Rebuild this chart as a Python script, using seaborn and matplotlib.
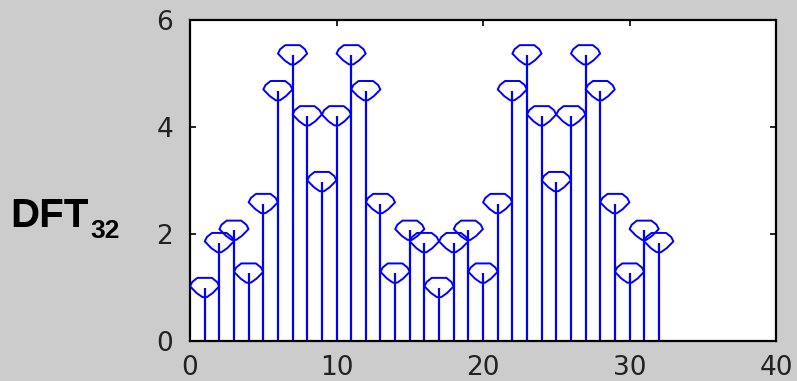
import numpy as np
import pandas as pd
import matplotlib
matplotlib.use("Agg")
import matplotlib.pyplot as plt
from matplotlib.path import Path
from matplotlib.markers import MarkerStyle
import seaborn as sns

# DFT magnitude samples, k = 1..32
k = list(range(1, 33))
magnitude = [1.00, 1.84, 2.07, 1.27, 2.57, 4.68, 5.35, 4.21,
             2.98, 4.21, 5.35, 4.68, 2.57, 1.27, 2.07, 1.84,
             1.00, 1.84, 2.07, 1.27, 2.57, 4.68, 5.35, 4.21,
             2.98, 4.21, 5.35, 4.68, 2.57, 1.27, 2.07, 1.84]
x_ticks = [0, 10, 20, 30, 40]
y_ticks = [0, 2, 4, 6]

df = pd.DataFrame({"k": k, "mag": magnitude})

sns.set_theme(style="white")
plt.rcParams["font.family"] = ["DejaVu Sans"]

bg = "#cccccc"
stem_color = "#0000ff"

fig = plt.figure(figsize=(7.97, 3.81), dpi=100, facecolor=bg)
ax = fig.add_axes([190 / 797, 1 - 341 / 381, 586 / 797, 321 / 381])
ax.set_facecolor("white")

# stems from zero up to each sample
ax.vlines(df["k"], 0, df["mag"], color=stem_color, linewidth=1.6, zorder=2)

# wide open "gem" diamond marker: flat top, pointed sides, narrow bottom
verts = [(-0.5, 0.66), (0.5, 0.66), (0.85, 0.38), (1.0, 0.08),
         (0.55, -0.38), (0.15, -0.66), (-0.15, -0.66), (-0.55, -0.38),
         (-1.0, 0.08), (-0.85, 0.38), (-0.5, 0.66)]
codes = [Path.MOVETO] + [Path.LINETO] * (len(verts) - 2) + [Path.CLOSEPOLY]
gem = MarkerStyle(Path(verts, codes))

sns.scatterplot(data=df, x="k", y="mag", ax=ax, marker=gem, s=21 ** 2,
                facecolor="none", edgecolor=stem_color, linewidth=1.4,
                zorder=3, legend=False)

ax.set_xlim(0, 40)
ax.set_ylim(0, 6)
ax.set_xticks(x_ticks)
ax.set_yticks(y_ticks)
ax.set_xlabel("")
ax.set_ylabel("")
ax.tick_params(direction="in", length=4, width=1.2, color="black",
               top=True, right=True, bottom=True, left=True,
               labelsize=19, labelcolor="#222222")
ax.tick_params(axis="x", pad=10)
ax.tick_params(axis="y", pad=12)
for s in ax.spines.values():
    s.set_visible(True)
    s.set_color("black")
    s.set_linewidth(1.6)

# row label with subscript
fig.text(10 / 797, 1 - 227 / 381, "DFT", fontsize=29, fontweight="bold",
         family="Liberation Sans", color="black", va="baseline", ha="left")
fig.text(90 / 797, 1 - 238 / 381, "32", fontsize=19, fontweight="bold",
         family="Liberation Sans", color="black", va="baseline", ha="left")

fig.savefig("out.png", dpi=100, facecolor=bg)
